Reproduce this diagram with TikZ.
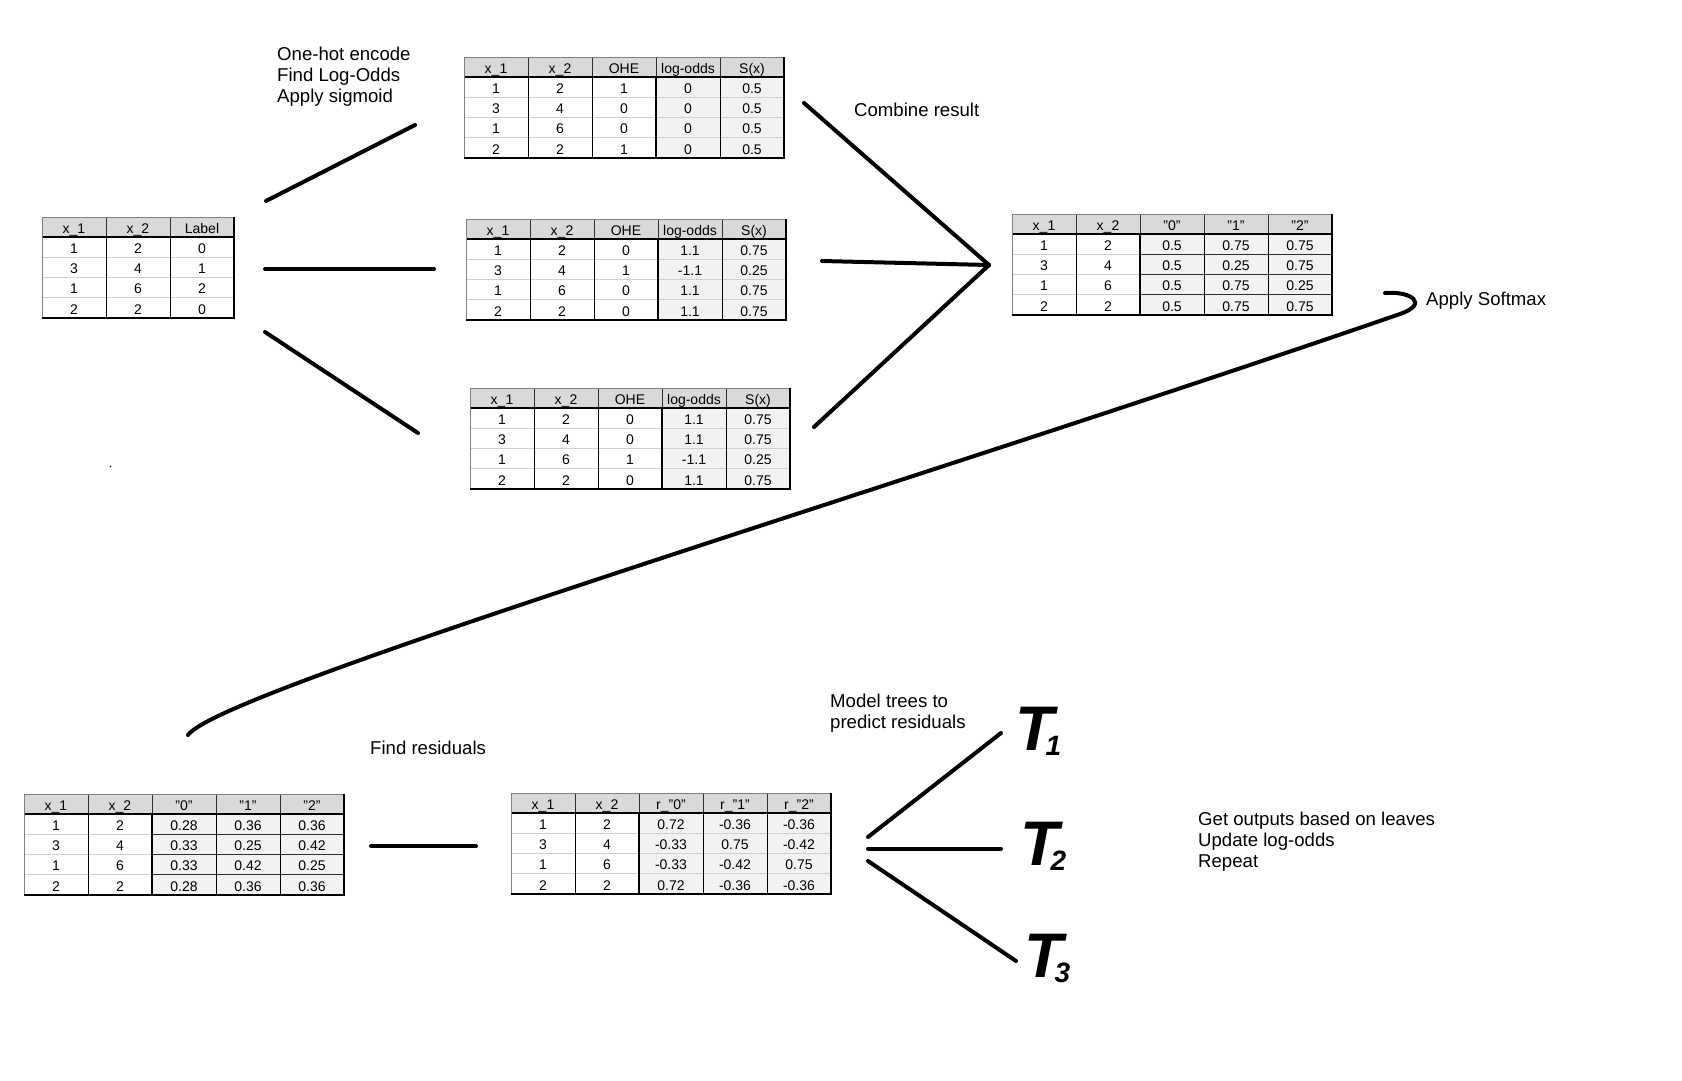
\documentclass[tikz,border=0pt]{standalone}
\usepackage{fontspec}
\setmainfont{Liberation Sans}
\definecolor{hdr}{HTML}{D9D9D9}
\definecolor{shd}{HTML}{F2F2F2}
\definecolor{rl}{HTML}{D0D0D0}
\definecolor{dk}{HTML}{303030}
\tikzset{
  conn/.style={line width=4pt, line cap=round},
  lbl/.style={anchor=north west, inner sep=0pt, align=left, font=\fontsize{18.6}{20.8}\selectfont},
  cell/.style={inner sep=0pt, text height=9.7pt, text depth=0pt, font=\fontsize{14}{15}\selectfont},
  Tlab/.style={anchor=base west, inner sep=0pt, font=\fontsize{63}{63}\selectfont\bfseries\itshape},
}
% #1 name, #2 x, #3 y, #4 ncols, #5 shade start col, #6 row line colour in shaded part, #7 headers, #8 rows
\newcommand\mytab[8]{%
\begin{scope}[shift={(#2,#3)}]
  \pgfmathsetmacro\tW{#4*64}
  \pgfmathsetmacro\tH{20+4*20.25}
  \pgfmathsetmacro\tS{#5*64}
  \pgfmathtruncatemacro\tN{#4-1}
  \fill[hdr] (0,0) rectangle (\tW,20);
  \ifnum#5>0 \fill[shd] (\tS,20) rectangle (\tW,\tH); \fi
  \foreach \i in {1,2,3} {
    \draw[rl, line width=0.9pt] (0,20+\i*20.25) -- (\tS,20+\i*20.25);
    \draw[#6, line width=0.9pt] (\tS,20+\i*20.25) -- (\tW,20+\i*20.25);
  }
  \foreach \j in {1,...,\tN} {
    \draw[dk, line width=0.8pt] (\j*64,0) -- (\j*64,20);
    \draw[black, line width=0.9pt] (\j*64,20) -- (\j*64,\tH);
  }
  \ifnum#5>0 \draw[line width=2pt] (\tS,20) -- (\tS,\tH); \fi
  \draw[line width=2pt] (0,20) -- (\tW,20);
  \draw[gray, line width=0.8pt] (0,\tH) -- (0,0) -- (\tW,0);
  \draw[line width=2.5pt] (0,\tH) -- (\tW,\tH) -- (\tW,-0.5);
  \foreach \h [count=\j] in {#7}
    \node[cell] (#1-h\j) at ({(\j-0.5)*64},11.2) {\h};
  \foreach \row [count=\r] in {#8} {
    \foreach \c [count=\j] in \row
      \node[cell] (#1-\r-\j) at ({(\j-0.5)*64},{21.3+(\r-0.5)*20.25}) {\c};
  }
\end{scope}}
\begin{document}
\begin{tikzpicture}[x=1pt,y=-1pt]
\fill[white] (0,0) rectangle (1682,1080);
\useasboundingbox (0,0) rectangle (1682,1080);

% tables
\mytab{lab}{42}{217}{3}{0}{rl}{x\_1,x\_2,Label}{{1,2,0},{3,4,1},{1,6,2},{2,2,0}}
\mytab{ohA}{464}{57}{5}{3}{rl}{x\_1,x\_2,OHE,log-odds,S(x)}{{1,2,1,0,0.5},{3,4,0,0,0.5},{1,6,0,0,0.5},{2,2,1,0,0.5}}
\mytab{ohB}{466}{219}{5}{3}{rl}{x\_1,x\_2,OHE,log-odds,S(x)}{{1,2,0,1.1,0.75},{3,4,1,-1.1,0.25},{1,6,0,1.1,0.75},{2,2,0,1.1,0.75}}
\mytab{ohC}{470}{388}{5}{3}{rl}{x\_1,x\_2,OHE,log-odds,S(x)}{{1,2,0,1.1,0.75},{3,4,0,1.1,0.75},{1,6,1,-1.1,0.25},{2,2,0,1.1,0.75}}
\mytab{comb}{1012}{214}{5}{2}{dk}{x\_1,x\_2,"0","1","2"}{{1,2,0.5,0.75,0.75},{3,4,0.5,0.25,0.75},{1,6,0.5,0.75,0.25},{2,2,0.5,0.75,0.75}}
\mytab{soft}{24}{794}{5}{2}{dk}{x\_1,x\_2,"0","1","2"}{{1,2,0.28,0.36,0.36},{3,4,0.33,0.25,0.42},{1,6,0.33,0.42,0.25},{2,2,0.28,0.36,0.36}}
\mytab{res}{511}{793}{5}{2}{rl}{x\_1,x\_2,r\_"0",r\_"1",r\_"2"}{{1,2,0.72,-0.36,-0.36},{3,4,-0.33,0.75,-0.42},{1,6,-0.33,-0.42,0.75},{2,2,0.72,-0.36,-0.36}}

% labels
\node[lbl] (steps) at (277,47) {One-hot encode\\Find Log-Odds\\Apply sigmoid};
\node[lbl] (combl) at (854,103) {Combine result};
\node[lbl] (softl) at (1426,292) {Apply Softmax};
\node[lbl] (findres) at (370,741) {Find residuals};
\node[lbl] (model) at (830,694) {Model trees to\\predict residuals};
\node[lbl] (getout) at (1198,812) {Get outputs based on leaves\\Update log-odds\\Repeat};

% trees
\node[Tlab] (T1) at (1015,750) {T\kern-8pt\raisebox{-5pt}{\fontsize{28}{28}\selectfont 1}};
\node[Tlab] (T2) at (1020,865) {T\kern-8pt\raisebox{-5pt}{\fontsize{28}{28}\selectfont 2}};
\node[Tlab] (T3) at (1024,977) {T\kern-8pt\raisebox{-5pt}{\fontsize{28}{28}\selectfont 3}};

% connector end points
\coordinate (a0) at (266,201); \coordinate (a1) at (415,125);
\coordinate (b0) at (265,269); \coordinate (b1) at (434,269);
\coordinate (c0) at (265,332); \coordinate (c1) at (418,433);
\coordinate (hub) at (989,265);
\coordinate (d0) at (804,103); \coordinate (e0) at (822,261); \coordinate (f0) at (814,427);
\coordinate (sm0) at (1385,293); \coordinate (sm1) at (1400,314); \coordinate (sm2) at (188,735);
\coordinate (r0) at (371,846); \coordinate (r1) at (476,846);
\coordinate (g1) at (868,837); \coordinate (g2) at (868,848.5); \coordinate (g3) at (868,861);
\coordinate (t1) at (1001,733); \coordinate (t2) at (1001,848.5); \coordinate (t3) at (1016,961);

% connectors
\draw[conn] (a0) -- (a1);
\draw[conn] (b0) -- (b1);
\draw[conn] (c0) -- (c1);
\draw[conn] (d0) -- (hub);
\draw[conn] (e0) -- (hub);
\draw[conn] (f0) -- (hub);
\draw[conn] (sm0) .. controls (1412,291) and (1429,304) .. (sm1)
  .. controls (900,486.5) and (220,690) .. (sm2);
\draw[conn] (r0) -- (r1);
\draw[conn] (g1) -- (t1);
\draw[conn] (g2) -- (t2);
\draw[conn] (g3) -- (t3);

% stray dot
\fill (110.5,466.5) circle (0.9);
\end{tikzpicture}
\end{document}
